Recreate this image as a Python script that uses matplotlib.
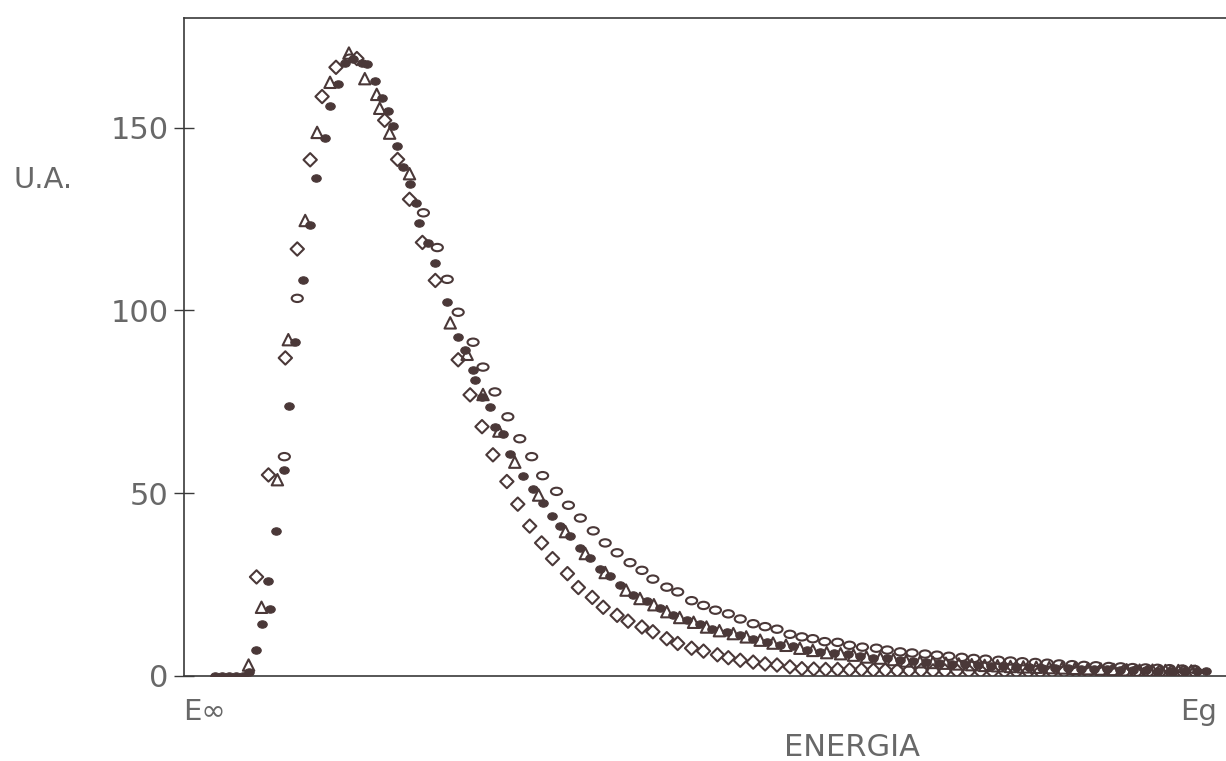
import matplotlib
matplotlib.use("Agg")
import matplotlib.pyplot as plt
from matplotlib.path import Path
from matplotlib.markers import MarkerStyle
import numpy as np

# ---------------- data (energy in arbitrary units: E_inf = 0, Eg = 100) ----------------
filled_x = [1.0, 1.7, 2.4, 3.1, 3.8, 4.4, 5.1, 5.8, 6.6, 6.4, 7.2, 8.0, 8.5, 9.1, 9.9, 10.6,
            11.2, 12.1, 12.6, 13.4, 14.1, 14.9, 15.8, 16.3, 17.1, 17.8, 18.4, 18.9, 19.3, 19.9,
            20.6, 21.3, 21.6, 22.5, 23.2, 24.4, 25.5, 26.2, 27.0, 27.2, 27.9, 28.7, 29.2, 30.0,
            30.7, 32.0, 33.0, 34.0, 34.9, 35.8, 36.8, 37.8, 38.8, 39.8, 40.8, 41.8, 43.1, 44.5,
            45.8, 47.1, 48.5, 49.8, 51.1, 52.6, 53.9, 55.2, 56.6, 57.9, 59.2, 60.6, 61.9, 63.3,
            64.7, 66.0, 67.3, 68.7, 70.0, 71.3, 72.6, 73.9, 75.2, 76.5, 77.8, 79.1, 80.4, 81.7,
            83.0, 84.3, 85.6, 86.9, 88.2, 89.5, 90.8, 92.1, 93.4, 94.7, 96.0, 97.3, 98.6, 99.9,
            100.8]
filled_y = [0.0, 0.0, 0.0, 0.0, 0.0, 1.0, 7.1, 14.2, 18.3, 25.9, 39.6, 56.3, 73.8, 91.4, 108.4, 123.5,
            136.1, 147.1, 155.9, 161.9, 167.7, 168.8, 167.7, 167.5, 162.8, 158.2, 154.6, 150.5, 145.1, 139.1,
            134.7, 129.3, 123.8, 118.4, 112.9, 102.3, 92.7, 89.2, 83.8, 81.1, 76.2, 73.5, 68.0, 66.1,
            60.6, 54.7, 51.2, 47.2, 43.9, 40.9, 38.2, 34.9, 32.2, 29.4, 27.3, 24.8, 22.1, 20.5,
            18.6, 16.7, 15.4, 14.1, 12.8, 12.0, 11.2, 10.2, 9.4, 8.6, 8.1, 7.2, 6.7, 6.2,
            6.0, 5.5, 5.0, 4.8, 4.3, 4.0, 3.8, 3.6, 3.4, 3.2, 3.0, 2.8, 2.7, 2.5,
            2.4, 2.3, 2.2, 2.1, 2.0, 1.9, 1.8, 1.7, 1.6, 1.6, 1.5, 1.5, 1.4, 1.4,
            1.4]

tri_x = [4.4, 5.7, 7.3, 8.4, 10.1, 11.3, 12.6, 14.5, 16.1, 17.3, 17.6, 18.6, 20.6, 24.7,
         26.4, 28.0, 29.6, 31.2, 33.6, 36.3, 38.3, 40.3, 42.4, 43.8, 45.2, 46.5, 47.8, 49.2,
         50.5, 51.8, 53.2, 54.5, 55.9, 57.2, 58.5, 59.9, 61.2, 62.6, 64.0, 65.3, 66.6, 68.0,
         69.3, 70.6, 72.0, 73.3, 74.6, 75.9, 77.2, 78.5, 79.8, 81.1, 82.4, 83.7, 85.0, 86.3,
         87.6, 88.9, 90.2, 91.5, 92.8, 94.1, 95.4, 96.7, 98.0, 99.3]
tri_y = [3.0, 18.8, 53.7, 92.0, 124.6, 148.7, 162.4, 170.4, 163.4, 159.1, 155.3, 148.5, 137.4, 96.6,
         88.0, 77.0, 67.0, 58.5, 49.5, 39.5, 33.5, 28.3, 23.5, 21.2, 19.5, 17.6, 16.0, 14.7,
         13.4, 12.4, 11.6, 10.7, 9.8, 9.0, 8.4, 7.6, 7.0, 6.4, 6.1, 5.7, 5.2, 4.9,
         4.5, 4.1, 3.9, 3.7, 3.5, 3.3, 3.1, 2.9, 2.8, 2.6, 2.5, 2.4, 2.3, 2.2,
         2.1, 2.0, 1.9, 1.8, 1.7, 1.6, 1.6, 1.5, 1.5, 1.4]

dia_x = [5.2, 6.4, 8.1, 9.3, 10.6, 11.8, 13.2, 15.3, 18.1, 19.4, 20.6, 21.9, 23.2, 25.5,
         26.7, 27.9, 29.0, 30.4, 31.5, 32.7, 33.9, 35.0, 36.5, 37.6, 39.0, 40.1, 41.5, 42.6,
         44.0, 45.1, 46.5, 47.6, 49.0, 50.2, 51.6, 52.7, 53.9, 55.2, 56.4, 57.6, 58.9, 60.1,
         61.3, 62.5, 63.7, 64.9, 66.1, 67.3, 68.5, 69.7, 70.9, 72.1, 73.3, 74.5, 75.7, 76.9,
         78.1, 79.3, 80.5, 81.7, 82.9, 84.1, 85.3, 86.5, 87.7, 88.9, 90.1, 91.3, 92.5, 93.7,
         94.9, 96.1, 97.3, 98.5, 99.7]
dia_y = [27.1, 55.0, 87.0, 116.8, 141.2, 158.5, 166.5, 168.9, 152.0, 141.3, 130.4, 118.6, 108.2, 86.5,
         76.9, 68.2, 60.5, 53.2, 47.0, 41.0, 36.4, 32.1, 28.0, 24.2, 21.5, 18.8, 16.6, 15.0,
         13.4, 12.1, 10.2, 8.9, 7.6, 6.8, 5.8, 5.0, 4.3, 3.8, 3.3, 3.0, 2.5, 2.0,
         1.9, 1.8, 1.8, 1.7, 1.7, 1.6, 1.6, 1.5, 1.5, 1.5, 1.4, 1.4, 1.4, 1.3,
         1.3, 1.3, 1.3, 1.2, 1.2, 1.2, 1.2, 1.2, 1.1, 1.1, 1.1, 1.1, 1.1, 1.0,
         1.0, 1.0, 1.0, 1.0, 1.0]

open_x = [8.0, 9.3, 14.6, 22.0, 23.4, 24.4, 25.5, 27.0, 28.0, 29.2, 30.5, 31.7, 32.9, 34.0,
          35.4, 36.6, 37.8, 39.1, 40.3, 41.5, 42.8, 44.0, 45.1, 46.5, 47.6, 49.0, 50.2, 51.4,
          52.7, 53.9, 55.2, 56.4, 57.6, 58.9, 60.1, 61.2, 62.4, 63.7, 64.9, 66.2, 67.6, 68.7,
          70.0, 71.2, 72.5, 73.7, 74.9, 76.2, 77.4, 78.6, 79.9, 81.1, 82.3, 83.6, 84.8, 86.0,
          87.3, 88.5, 89.7, 91.0, 92.2, 93.4, 94.7, 95.9, 97.1, 98.4, 99.6]
open_y = [60.0, 103.3, 169.0, 126.7, 117.2, 108.5, 99.5, 91.3, 84.5, 77.7, 70.9, 64.9, 60.0, 54.8,
          50.5, 46.7, 43.2, 39.7, 36.4, 33.7, 31.0, 28.9, 26.5, 24.3, 23.0, 20.6, 19.3, 18.0,
          17.0, 15.6, 14.3, 13.5, 12.8, 11.4, 10.7, 10.2, 9.4, 9.2, 8.4, 7.9, 7.6, 7.1,
          6.6, 6.3, 6.0, 5.7, 5.4, 5.1, 4.8, 4.6, 4.3, 4.1, 3.9, 3.7, 3.5, 3.3,
          3.1, 2.9, 2.8, 2.6, 2.5, 2.3, 2.2, 2.1, 2.0, 1.9, 1.8]

y_ticks = [0, 50, 100, 150]
x_tick_pos = [0, 100]
x_tick_labels = ["E\u221e", "Eg"]

# ---------------- style ----------------
ink = "#4a3838"
txt = "#686868"

circ = Path.unit_circle()
ell_path = Path(circ.vertices * np.array([1.0, 0.66]), circ.codes)
ell_open = MarkerStyle(ell_path)
ell_fill_path = Path(circ.vertices * np.array([1.0, 0.78]), circ.codes)
ell_fill = MarkerStyle(ell_fill_path)

fig = plt.figure(figsize=(12.26, 7.61), dpi=100)
ax = fig.add_axes([0.1501, 0.1117, 0.8499, 0.8647])

ax.scatter(open_x, open_y, marker=ell_open, s=8.0**2, facecolors="none",
           edgecolors=ink, linewidths=1.5, zorder=3)
ax.scatter(dia_x, dia_y, marker="D", s=6.8**2, facecolors="none",
           edgecolors=ink, linewidths=1.5, zorder=3)
ax.scatter(tri_x, tri_y, marker="^", s=8.2**2, facecolors="none",
           edgecolors=ink, linewidths=1.5, zorder=4)
ax.scatter(filled_x, filled_y, marker=ell_fill, s=6.8**2, facecolors=ink,
           edgecolors=ink, linewidths=0.8, zorder=5)

ax.set_xlim(-2.1, 102.8)
ax.set_ylim(0, 180)

ax.spines["right"].set_visible(False)
for s in ["left", "top", "bottom"]:
    ax.spines[s].set_color("#3a3a3a")
    ax.spines[s].set_linewidth(1.2)

ax.set_yticks(y_ticks)
ax.set_yticklabels([str(v) for v in y_ticks])
ax.tick_params(axis="y", direction="inout", length=14, width=1.0, color="#3a3a3a",
               labelsize=22, labelcolor=txt, pad=4)
ax.set_xticks(x_tick_pos)
ax.set_xticklabels(x_tick_labels)
ax.tick_params(axis="x", length=0, labelsize=21, labelcolor=txt, pad=16)

ax.set_xlabel("ENERGIA", fontsize=22, color=txt, va="center")
ax.xaxis.set_label_coords(0.641, -0.108)
ax.set_ylabel("U.A.", fontsize=21, color=txt, rotation=0, ha="center", va="center")
ax.yaxis.set_label_coords(-0.135, 0.754)

fig.savefig("out.png", dpi=100)
